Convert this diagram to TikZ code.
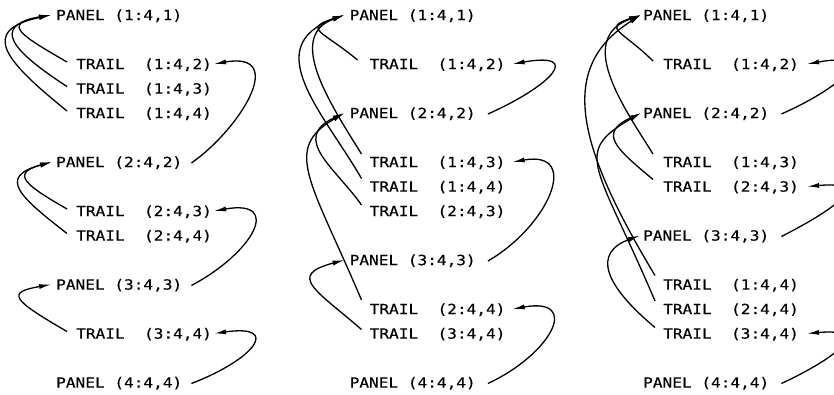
\documentclass[tikz,border=0pt]{standalone}
\usepackage{fontspec}
\newfontfamily\codefont[FakeStretch=1.15,FakeBold=0.4]{DejaVu Sans Mono}
\usetikzlibrary{arrows.meta}
\begin{document}
\begin{tikzpicture}[x=1pt,y=1pt,
  lbl/.style={anchor=west, inner sep=0pt, text height=10.2pt, text depth=0pt,
    font=\codefont\fontsize{14pt}{16pt}\selectfont},
  link/.style={line width=1.3pt, -{Latex[length=12pt,width=5pt]}},
]
\useasboundingbox (0,0) rectangle (834,394);
\clip (0,0) rectangle (834,394);

% ---------- first column ----------
\node[lbl] (c1p1)  at (56,379)   {PANEL (1:4,1)};
\node[lbl] (c1t12) at (76,330)   {TRAIL\ \ (1:4,2)};
\node[lbl] (c1t13) at (76,305.5) {TRAIL\ \ (1:4,3)};
\node[lbl] (c1t14) at (76,281)   {TRAIL\ \ (1:4,4)};
\node[lbl] (c1p2)  at (56,232)   {PANEL (2:4,2)};
\node[lbl] (c1t23) at (76,183)   {TRAIL\ \ (2:4,3)};
\node[lbl] (c1t24) at (76,158.5) {TRAIL\ \ (2:4,4)};
\node[lbl] (c1p3)  at (56,109.5) {PANEL (3:4,3)};
\node[lbl] (c1t34) at (76,60.5)  {TRAIL\ \ (3:4,4)};
\node[lbl] (c1p4)  at (56,11.5)  {PANEL (4:4,4)};

\draw[link] ([shift={(-9pt,2pt)}]c1t12.west) to[out=150,in=190,out distance=55pt,in distance=50pt] ([xshift=-5pt]c1p1.west);
\draw[link] ([shift={(-9pt,2pt)}]c1t13.west) to[out=147,in=190,out distance=65pt,in distance=62pt] ([xshift=-5pt]c1p1.west);
\draw[link] ([shift={(-9pt,2pt)}]c1t14.west) to[out=141,in=192,out distance=78pt,in distance=75pt] ([xshift=-5pt]c1p1.west);
\draw[link] ([shift={(-9pt,2pt)}]c1t23.west) to[out=150,in=195,distance=45pt] ([xshift=-4pt]c1p2.west);
\draw[link] ([shift={(-9pt,2pt)}]c1t24.west) to[out=142,in=195,distance=58pt] ([xshift=-4pt]c1p2.west);
\draw[link] ([shift={(-9pt,2pt)}]c1t34.west) to[out=150,in=190,out distance=65pt,in distance=45pt] ([xshift=-5pt]c1p3.west);
\draw[link] ([shift={(9pt,-1pt)}]c1p2.east) to[out=35,in=10,out distance=60pt,in distance=75pt] ([xshift=2pt]c1t12.east);
\draw[link] ([shift={(9pt,-1pt)}]c1p3.east) to[out=28,in=10,distance=70pt] ([xshift=2pt]c1t23.east);
\draw[link] ([shift={(9pt,-1pt)}]c1p4.east) to[out=21,in=8,distance=68pt] ([xshift=2pt]c1t34.east);

% ---------- second column ----------
\node[lbl] (c2p1)  at (349.5,379)   {PANEL (1:4,1)};
\node[lbl] (c2t12) at (369.5,330)   {TRAIL\ \ (1:4,2)};
\node[lbl] (c2p2)  at (349.5,281)   {PANEL (2:4,2)};
\node[lbl] (c2t13) at (369.5,232)   {TRAIL\ \ (1:4,3)};
\node[lbl] (c2t14) at (369.5,207.5) {TRAIL\ \ (1:4,4)};
\node[lbl] (c2t23) at (369.5,183)   {TRAIL\ \ (2:4,3)};
\node[lbl] (c2p3)  at (349.5,134)   {PANEL (3:4,3)};
\node[lbl] (c2t24) at (369.5,85)    {TRAIL\ \ (2:4,4)};
\node[lbl] (c2t34) at (369.5,60.5)  {TRAIL\ \ (3:4,4)};
\node[lbl] (c2p4)  at (349.5,11.5)  {PANEL (4:4,4)};

\draw[link] ([shift={(-12pt,4pt)}]c2t12.west) to[out=140,in=198,distance=45pt] ([xshift=-5pt]c2p1.west);
\draw[link] ([shift={(-8pt,8pt)}]c2t13.west) to[out=122,in=200,distance=62pt] ([xshift=-5pt]c2p1.west);
\draw[link] ([shift={(-8pt,8pt)}]c2t14.west) to[out=120,in=200,out distance=75pt,in distance=92pt] ([xshift=-5pt]c2p1.west);
\draw[link] ([shift={(-8pt,6pt)}]c2t23.west) to[out=125,in=205,out distance=45pt,in distance=60pt] ([xshift=-5pt]c2p2.west);
\draw[link] ([shift={(-8pt,9pt)}]c2t24.west) to[out=113,in=210,out distance=130pt,in distance=72pt] ([xshift=-5pt]c2p2.west);
\draw[link] ([shift={(-8pt,4pt)}]c2t34.west) to[out=139,in=195,distance=60pt] ([xshift=-5pt]c2p3.west);
\draw[link] ([shift={(12pt,-1pt)}]c2p2.east) to[out=24,in=10,distance=71pt] ([xshift=7pt]c2t12.east);
\draw[link] ([shift={(12pt,-1pt)}]c2p3.east) to[out=30,in=10,distance=70pt] ([xshift=7pt]c2t13.east);
\draw[link] ([shift={(12pt,-1pt)}]c2p4.east) to[out=25,in=10,distance=70pt] ([xshift=7pt]c2t24.east);

% ---------- third column ----------
\node[lbl] (c3p1)  at (643,379)   {PANEL (1:4,1)};
\node[lbl] (c3t12) at (663,330)   {TRAIL\ \ (1:4,2)};
\node[lbl] (c3p2)  at (643,281)   {PANEL (2:4,2)};
\node[lbl] (c3t13) at (663,232)   {TRAIL\ \ (1:4,3)};
\node[lbl] (c3t23) at (663,207.5) {TRAIL\ \ (2:4,3)};
\node[lbl] (c3p3)  at (643,158.5) {PANEL (3:4,3)};
\node[lbl] (c3t14) at (663,109.5) {TRAIL\ \ (1:4,4)};
\node[lbl] (c3t24) at (663,85)    {TRAIL\ \ (2:4,4)};
\node[lbl] (c3t34) at (663,60.5)  {TRAIL\ \ (3:4,4)};
\node[lbl] (c3p4)  at (643,11.5)  {PANEL (4:4,4)};

\draw[link] ([shift={(-10pt,3pt)}]c3t12.west) to[out=135,in=198,distance=42pt] ([xshift=-2pt]c3p1.west);
\draw[link] ([shift={(-10pt,8pt)}]c3t13.west) to[out=122,in=200,out distance=55pt,in distance=70pt] ([xshift=-2pt]c3p1.west);
\draw[link] ([shift={(-8pt,9pt)}]c3t14.west) to[out=121,in=212,out distance=150pt,in distance=100pt] ([xshift=-2pt]c3p1.west);
\draw[link] ([shift={(-10pt,7pt)}]c3t23.west) to[out=140,in=205,distance=48pt] ([xshift=-2pt]c3p2.west);
\draw[link] ([shift={(-8pt,8pt)}]c3t24.west) to[out=113,in=210,out distance=150pt,in distance=80pt] ([xshift=-2pt]c3p2.west);
\draw[link] ([shift={(-8pt,6pt)}]c3t34.west) to[out=140,in=200,out distance=68pt,in distance=50pt] ([xshift=-3pt]c3p3.west);
\draw[link] ([shift={(12pt,-1pt)}]c3p2.east) to[out=24,in=10,distance=71pt] ([xshift=8pt]c3t12.east);
\draw[link] ([shift={(12pt,-1pt)}]c3p3.east) to[out=27,in=5,distance=65pt] ([xshift=8pt]c3t23.east);
\draw[link] ([shift={(12pt,-1pt)}]c3p4.east) to[out=25,in=5,distance=65pt] ([xshift=8pt]c3t34.east);
\end{tikzpicture}
\end{document}
